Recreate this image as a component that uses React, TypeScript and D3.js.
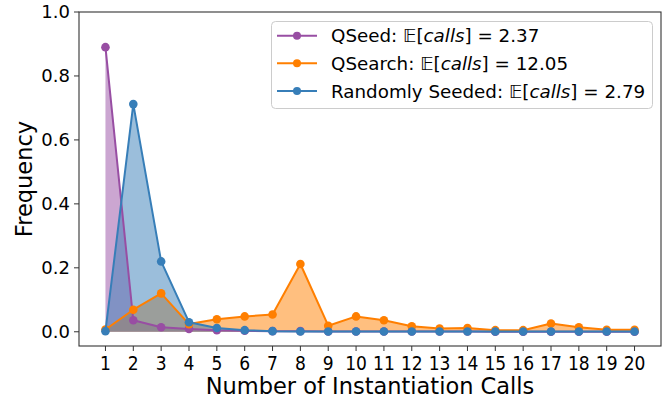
import React from 'react';
import * as d3 from 'd3';

// number of instantiation calls (x positions)
const calls = [1, 2, 3, 4, 5, 6, 7, 8, 9, 10, 11, 12, 13, 14, 15, 16, 17, 18, 19, 20];

// frequencies
const qseed = [0.89, 0.036, 0.014, 0.009, 0.005, 0.003, 0.002, 0.002, 0.001, 0.001, 0.001, 0.001, 0.001, 0.001, 0.0, 0.0, 0.0, 0.0, 0.0, 0.0];
const qsearch = [0.007, 0.069, 0.12, 0.024, 0.039, 0.048, 0.054, 0.212, 0.019, 0.048, 0.036, 0.017, 0.01, 0.012, 0.005, 0.005, 0.026, 0.014, 0.006, 0.006];
const randomSeeded = [0.002, 0.712, 0.22, 0.03, 0.012, 0.005, 0.002, 0.001, 0.001, 0.001, 0.001, 0.001, 0.001, 0.001, 0.001, 0.001, 0.001, 0.001, 0.001, 0.001];

const seriesNames = ['QSeed', 'QSearch', 'Randomly Seeded'];
const expectedCalls = ['2.37', '12.05', '2.79'];
const seriesColors = ['#984ea3', '#ff7f00', '#377eb8'];
const yTicks = [0, 0.2, 0.4, 0.6, 0.8, 1.0];

const W = 672;
const H = 403;
const plot = { left: 79, right: 661, top: 12, bottom: 346 };
const FONT = '"DejaVu Sans", sans-serif';

const App: React.FC = () => {
  const x = d3.scaleLinear().domain([0.05, 20.95]).range([plot.left, plot.right]);
  const y = d3.scaleLinear().domain([-0.0445, 1.0]).range([plot.bottom, plot.top]);

  const allSeries = [qseed, qsearch, randomSeeded];

  const area = d3.area<number>()
    .x((_, i) => x(calls[i]))
    .y0(y(0))
    .y1(d => y(d));
  const line = d3.line<number>()
    .x((_, i) => x(calls[i]))
    .y(d => y(d));

  const legendRows = [35.7, 63.3, 91];

  return (
    <svg width={W} height={H} style={{ position: 'absolute', left: 0, top: 0 }} fontFamily={FONT}>
      <rect width={W} height={H} fill="#fff" />
      <defs>
        <clipPath id="plotclip">
          <rect x={plot.left} y={plot.top} width={plot.right - plot.left} height={plot.bottom - plot.top} />
        </clipPath>
      </defs>

      <g clipPath="url(#plotclip)">
        {/* fills below the lines */}
        {allSeries.map((s, k) => (
          <path key={'a' + k} d={area(s) || ''} fill={seriesColors[k]} fillOpacity={0.5} />
        ))}
        {allSeries.map((s, k) => (
          <g key={'l' + k}>
            <path d={line(s) || ''} fill="none" stroke={seriesColors[k]} strokeWidth={2} strokeLinejoin="round" />
            {s.map((v, i) => (
              <circle key={i} cx={x(calls[i])} cy={y(v)} r={4.3} fill={seriesColors[k]} />
            ))}
          </g>
        ))}
      </g>

      {/* frame */}
      <rect x={plot.left} y={plot.top} width={plot.right - plot.left} height={plot.bottom - plot.top}
        fill="none" stroke="#333" strokeWidth={1.1} />

      {/* x axis */}
      {calls.map(c => (
        <g key={c} transform={`translate(${x(c)},${plot.bottom})`}>
          <line y2={5} stroke="#333" strokeWidth={1} />
          <text y={23.5} textAnchor="middle" fontSize={19} fill="#000" style={{ fontStretch: 'condensed' }}>{c}</text>
        </g>
      ))}
      <text x={(plot.left + plot.right) / 2} y={394} textAnchor="middle" fontSize={22.5} fill="#000">
        Number of Instantiation Calls
      </text>

      {/* y axis */}
      {yTicks.map(t => (
        <g key={t} transform={`translate(${plot.left},${y(t)})`}>
          <line x2={-5} stroke="#333" strokeWidth={1} />
          <text x={-9} dy="0.35em" textAnchor="end" fontSize={18} fill="#000">{t.toFixed(1)}</text>
        </g>
      ))}
      <text transform={`translate(32,${(plot.top + plot.bottom) / 2}) rotate(-90)`} textAnchor="middle" fontSize={22.5} fill="#000">
        Frequency
      </text>

      {/* legend */}
      <rect x={271.5} y={21.5} width={381} height={87} rx={4} fill="#fff" fillOpacity={0.8} stroke="#cccccc" strokeWidth={1} />
      {seriesNames.map((name, k) => (
        <g key={name} transform={`translate(0,${legendRows[k]})`}>
          <line x1={277} x2={317} stroke={seriesColors[k]} strokeWidth={2} />
          <circle cx={297} cy={0} r={4} fill={seriesColors[k]} />
          <text x={331} dy="0.36em" fontSize={18.3} fill="#000">
            <tspan>{name}: </tspan>
            <tspan>𝔼</tspan>
            <tspan>[</tspan>
            <tspan fontStyle="italic">calls</tspan>
            <tspan>]</tspan>
            <tspan> = {expectedCalls[k]}</tspan>
          </text>
        </g>
      ))}
    </svg>
  );
};

export default App;
